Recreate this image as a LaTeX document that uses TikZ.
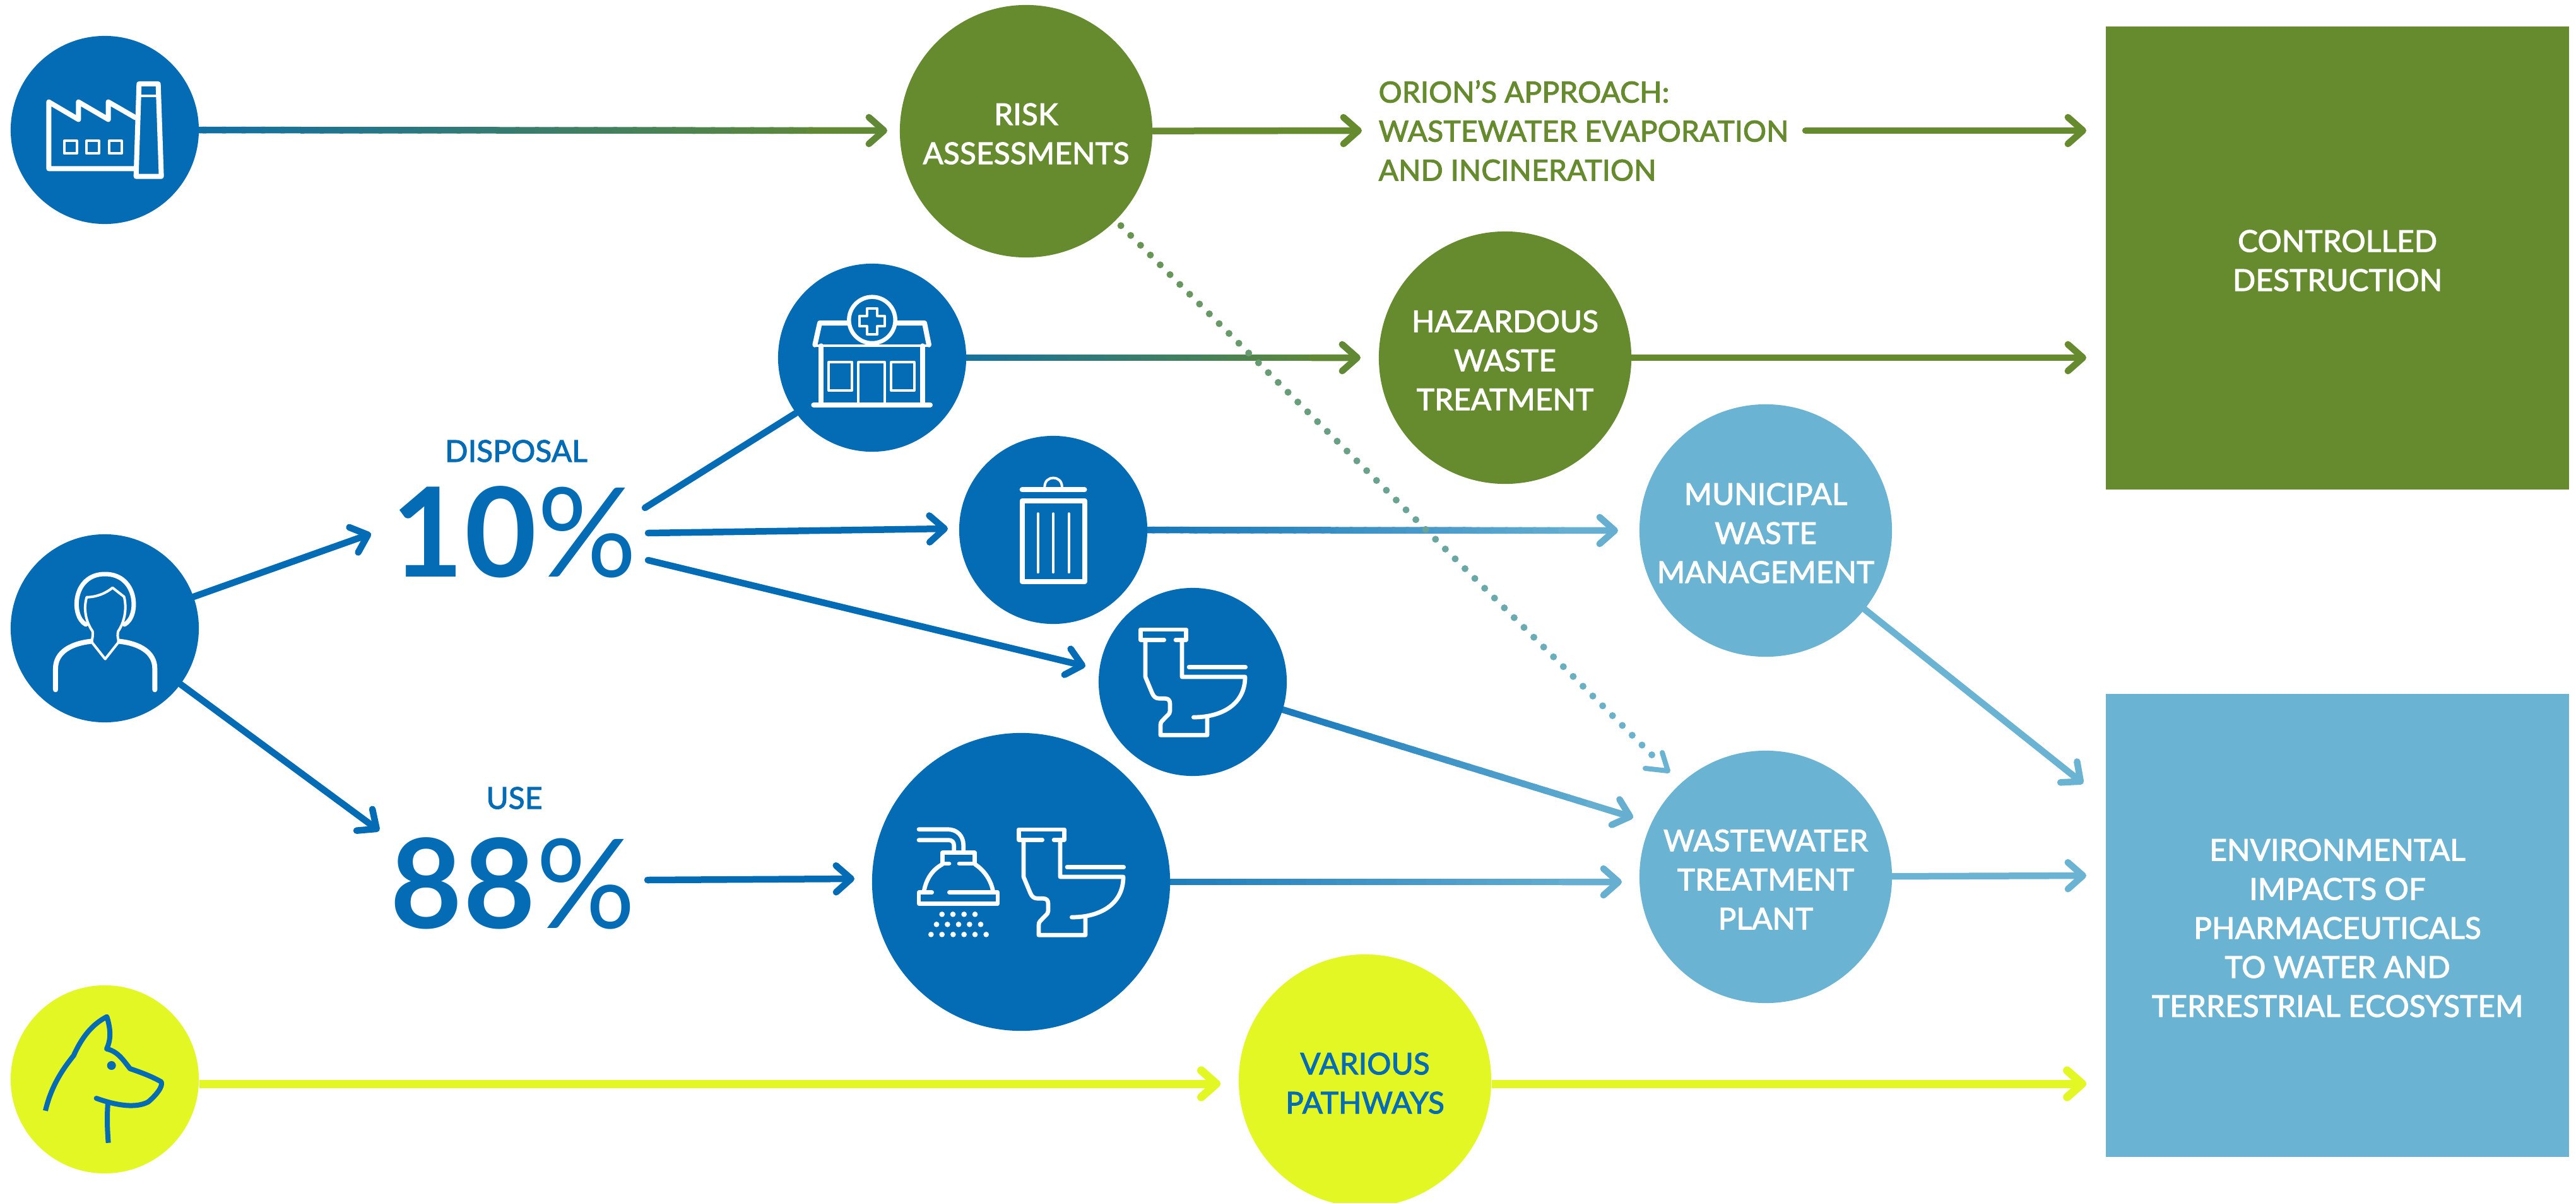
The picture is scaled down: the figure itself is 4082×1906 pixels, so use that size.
\documentclass[tikz,border=0pt]{standalone}
\usepackage{fontspec}
\setmainfont{Lato}
\newfontfamily\lab{Lato}[LetterSpace=0.6,FakeBold=2.4]
\newfontfamily\numb{Lato Bold}[LetterSpace=1]
\newfontfamily\numr{Lato}
\usetikzlibrary{calc,arrows.meta,backgrounds}
\definecolor{oblue}{HTML}{046BB5}
\definecolor{ogreen}{HTML}{668B2E}
\definecolor{olight}{HTML}{6BB3D3}
\definecolor{olime}{HTML}{E3F724}
\newlength{\px}\setlength{\px}{0.01cm}
\tikzset{
  bigc/.style={circle,fill=#1,draw=none,minimum size=4cm,inner sep=0pt,text=white,align=center,font=\labfont},
  iconc/.style={circle,fill=#1,draw=none,minimum size=2.98cm,inner sep=0pt},
  showerc/.style={circle,fill=oblue,draw=none,minimum size=4.72cm,inner sep=0pt},
  boxn/.style={rectangle,fill=#1,draw=none,minimum size=7.34cm,inner sep=0pt,text=white,align=center,font=\labfont},
  lbl/.style={text=#1,align=center,inner sep=0pt,font=\labfont},
  pct/.style={text=oblue,inner sep=0pt,font=\pctfont},
  conn/.style={line width=10.5\px,line cap=round,line join=round},
  limec/.style={line width=13\px,line cap=butt,olime},
  tipped/.style={-{Straight Barb[length=6.8pt,width=12pt,round]}},
  ic8/.style={white,line width=8\px,line cap=round,line join=round},
  ic6/.style={white,line width=6.7\px,line cap=round,line join=round},
  ic4/.style={white,line width=4\px,line cap=round,line join=round},
}
\newcommand\labfont{\lab\fontsize{13.5}{17.6}\selectfont}
\newcommand\orionfont{\lab\fontsize{13.1}{17.6}\selectfont}
\newcommand\lowertext{\rule{0pt}{12.1pt}}
\newcommand\pctfont{\numb\fontsize{56}{60}\selectfont}
\newcommand\pctsign{{\numr\%}}
% gradient connector: from, to, start colour, end colour
\newcommand\gradconn[4]{%
  \foreach \i in {0,...,35}{%
    \pgfmathsetmacro\pa{\i*0.025}%
    \pgfmathsetmacro\pb{(\i+1.2)*0.025}%
    \pgfmathsetmacro\pc{(\i+0.5)*2.5}%
    \draw[conn,line cap=butt,color=#4!\pc!#3] ($(#1)!\pa!(#2)$) -- ($(#1)!\pb!(#2)$);
  }%
  \draw[conn,tipped,color=#4!95!#3] ($(#1)!0.9!(#2)$) -- (#2);
}
\newcommand\toileticon{%
  \draw[ic6] (845,544) -- (733,544) -- (733,495) -- (950,495) -- (950,544) -- (900,544);
  \draw[ic6] (756,550) -- (756,720) -- (788,797) .. controls (796,815) and (805,823) .. (825,823) -- (850,823) .. controls (865,823) and (873,832) .. (873,847) -- (873,882) .. controls (873,892) and (868,896) .. (860,904) -- (835,930) .. controls (830,936) and (828,940) .. (828,948) -- (828,997) -- (1050,997) -- (1050,915);
  \draw[ic6] (930,550) -- (930,720) -- (1230,720) .. controls (1230,850) and (1120,912) .. (985,912);
  \draw[ic6] (963,674) -- (1232,674);
}
\begin{document}
\begin{tikzpicture}[x=0.01cm,y=-0.01cm]
\pgfdeclarelayer{lines}\pgfsetlayers{lines,main}
\useasboundingbox (0,0) rectangle (4082,1906);
% boxes
\node[boxn=ogreen] (ctrl) at (3704,409) {\lowertext CONTROLLED\\DESTRUCTION};
\node[boxn=olight] (env) at (3704,1467) {\lowertext ENVIRONMENTAL\\IMPACTS OF\\PHARMACEUTICALS\\TO WATER AND\\TERRESTRIAL ECOSYSTEM};
% big circles
\node[bigc=ogreen] (risk) at (1626,208) {\lowertext RISK\\ASSESSMENTS};
\node[bigc=ogreen] (haz) at (2385,567) {\lowertext HAZARDOUS\\WASTE\\TREATMENT};
\node[bigc=olight] (muni) at (2798,841) {\lowertext MUNICIPAL\\WASTE\\MANAGEMENT};
\node[bigc=olight] (wwtp) at (2798,1390) {\lowertext WASTEWATER\\TREATMENT\\PLANT};
\node[bigc=olime,text=oblue] (various) at (2163,1713) {\lowertext VARIOUS\\PATHWAYS};
% icon circles
\node[iconc=oblue] (factory) at (166,206) {};
\node[iconc=oblue] (person) at (166,996) {};
\node[iconc=olime] (dog) at (166,1711) {};
\node[iconc=oblue] (hospital) at (1382,567) {};
\node[iconc=oblue] (trash) at (1669,840) {};
\node[iconc=oblue] (toilet) at (1890,1081) {};
\node[showerc] (shower) at (1618,1398) {};
% labels
\node[lbl=ogreen,align=left,anchor=west,font=\orionfont] (orion) at (2184,207) {ORION’S APPROACH:\\WASTEWATER EVAPORATION\\AND INCINERATION};
\node[lbl=oblue] (disposal) at (818,715) {DISPOSAL};
\node[lbl=oblue] (use) at (815,1265) {USE};
\node[pct] (ten) at (815,843) {10\pctsign};
\node[pct] (eightyeight) at (813,1400) {88\pctsign};
% free ends
\coordinate (tipRisk) at (1406,207);
\coordinate (tipOrion) at (2158,207);
\coordinate (fromOrion) at (2861,207);
\coordinate (tipCtrlA) at (3306,207);
\coordinate (tipHaz) at (2156,567);
\coordinate (tipCtrlB) at (3306,567);
\coordinate (tipTen) at (588,846);
\coordinate (tipEight) at (601,1317);
\coordinate (fromTenA) at (1022,805);
\coordinate (fromTenB) at (1027,845);
\coordinate (fromTenC) at (1027,888);
\coordinate (tipTrash) at (1502,838);
\coordinate (tipToilet) at (1720,1056);
\coordinate (fromEight) at (1026,1395);
\coordinate (tipShower) at (1354,1393);
\coordinate (tipMuni) at (2564,841);
\coordinate (tipWwA) at (2588,1296);
\coordinate (tipWwB) at (2570,1398);
\coordinate (tipWwC) at (2643,1222);
\coordinate (tipEnvA) at (3301,1242);
\coordinate (tipEnvB) at (3306,1388);
\coordinate (tipVarious) at (1934,1718);
\coordinate (tipEnvC) at (3306,1718);
% connectors
\begin{pgfonlayer}{lines}
\gradconn{factory}{tipRisk}{oblue}{ogreen}
\gradconn{hospital}{tipHaz}{oblue}{ogreen}
\gradconn{trash}{tipMuni}{oblue}{olight}
\gradconn{toilet}{tipWwA}{oblue}{olight}
\gradconn{shower}{tipWwB}{oblue}{olight}
\draw[conn,tipped,ogreen] (risk) -- (tipOrion);
\draw[conn,tipped,ogreen] (fromOrion) -- (tipCtrlA);
\draw[conn,tipped,ogreen] (haz) -- (tipCtrlB);
\draw[conn,tipped,oblue] (person) -- (tipTen);
\draw[conn,tipped,oblue] (person) -- (tipEight);
\draw[conn,oblue] (fromTenA) -- (hospital.216);
\draw[conn,tipped,oblue] (fromTenB) -- (tipTrash);
\draw[conn,tipped,oblue] (fromTenC) -- (tipToilet);
\draw[conn,tipped,oblue] (fromEight) -- (tipShower);
\draw[conn,tipped,olight] (muni) -- (tipEnvA);
\draw[conn,tipped,olight] (wwtp) -- (tipEnvB);
\draw[limec,tipped] (dog.east |- tipVarious) -- (tipVarious);
\draw[limec,tipped] (various.east |- tipEnvC) -- (tipEnvC);
% dotted connector
\foreach \k in {0,...,54}{%
  \pgfmathsetmacro\t{(212+22*\k)/1436}%
  \pgfmathsetmacro\pc{\k*100/54}%
  \fill[color=olight!\pc!ogreen!80!olight] ($(risk)!\t!(tipWwC)$) circle (5.5);
}
\end{pgfonlayer}
\draw[conn,line width=8\px,color=olight] ($(tipWwC)+(-9,-29)$) -- (tipWwC) -- ($(tipWwC)+(-36,-4)$);
% factory icon
\begin{scope}[shift={(0,30)},scale=1/3]
\draw[ic8] (640,712) -- (232,712) -- (232,395) -- (373,478) -- (373,395) -- (515,478) -- (515,395) -- (645,470);
\draw[ic8] (661,309) -- (752,309) -- (767,749) -- (647,749) -- cycle;
\draw[ic4] (668,366) -- (745,366);
\draw[ic4] (305,580) rectangle (365,640);
\draw[ic4] (411,580) rectangle (471,640);
\draw[ic4] (518,580) rectangle (578,640);
\end{scope}
% hospital icon
\begin{scope}[shift={(1200,400)},scale=1/3]
\draw[ic8] (268,726) -- (822,726);
\draw[ic8] (304,445) -- (304,726);
\draw[ic8] (786,445) -- (786,726);
\draw[ic8] (430,336) -- (297,336) -- (274,440);
\draw[ic8] (662,336) -- (795,336) -- (816,440);
\draw[ic4] (274,443) -- (816,443);
\draw[white,line width=6.5\px] (546,322) circle (110);
\draw[ic4] (521,267) -- (571,267) -- (571,303) -- (606,303) -- (606,352) -- (571,352) -- (571,390) -- (521,390) -- (521,352) -- (485,352) -- (485,303) -- (521,303) -- cycle;
\draw[ic4] (340,522) rectangle (450,657);
\draw[ic4] (637,522) rectangle (746,657);
\draw[ic4] (481,720) -- (481,522) -- (606,522) -- (606,720);
\end{scope}
% trash icon
\begin{scope}[shift={(1500,680)},xscale=1/2.8,yscale=1/2.958]
\draw[ic8] (335,285) -- (612,285);
\draw[ic4] (435,272) .. controls (435,215) and (512,215) .. (512,272);
\draw[ic8] (335,336) rectangle (612,716);
\draw[ic4] (405,397) -- (405,672);
\draw[ic4] (473,397) -- (473,672);
\draw[ic4] (542,397) -- (542,672);
\end{scope}
% small toilet icon
\begin{scope}[shift={(1563,833)},scale=1/3]
\toileticon
\end{scope}
% shower and toilet icon
\begin{scope}[shift={(1370,1150)},scale=1/3]
\toileticon
\draw[ic6] (258,494) -- (395,494) .. controls (440,494) and (470,525) .. (470,570) -- (470,600);
\draw[ic6] (258,545) -- (400,545) .. controls (415,545) and (425,555) .. (425,570) -- (425,600);
\draw[ic6] (402,657) -- (370,657) -- (370,605) -- (523,605) -- (523,657) -- (450,657);
\draw[ic6] (283,785) .. controls (295,725) and (325,685) .. (370,660);
\draw[ic6] (525,660) .. controls (570,690) and (600,735) .. (610,785);
\draw[ic6] (320,794) -- (258,794) -- (258,847) -- (633,847) -- (633,794) -- (403,794);
\foreach \x in {368,420,473,525}{\fill[white] (\x,898) circle (13);}
\foreach \x in {342,394,447,499,552}{\fill[white] (\x,946) circle (13);}
\foreach \x in {316,368,421,473,525,578}{\fill[white] (\x,994) circle (13);}
\end{scope}
% person icon
\begin{scope}[shift={(0,830)},scale=1/3]
\draw[ic8] (264,790) -- (264,690) .. controls (264,610) and (340,570) .. (432,560);
\draw[ic8] (736,790) -- (736,690) .. controls (736,610) and (660,570) .. (568,560);
\draw[ic4] (435,562) -- (500,644) -- (565,562);
\draw[white,line width=7\px,line cap=round] (408,480) .. controls (335,440) and (345,240) .. (499,240) .. controls (655,240) and (665,440) .. (592,480);
\draw[ic4] (435,560) .. controls (442,540) and (442,525) .. (440,512) .. controls (410,470) and (395,410) .. (412,350) .. controls (460,350) and (505,330) .. (535,305) -- (590,348) .. controls (605,410) and (590,470) .. (562,512) .. controls (558,525) and (558,540) .. (565,560);
\end{scope}
% dog icon
\begin{scope}[shift={(0,1540)},scale=1/3]
\draw[oblue,line width=8\px,line join=round] (216,662) .. controls (240,560) and (285,480) .. (350,400) .. controls (390,310) and (440,250) .. (508,215) .. controls (525,270) and (530,320) .. (507,368) .. controls (560,380) and (585,420) .. (618,462) .. controls (670,480) and (720,498) .. (767,525) .. controls (775,550) and (740,590) .. (705,620) .. controls (650,650) and (560,640) .. (458,603);
\fill[oblue] (458,603) circle (12);
\draw[oblue,line width=8\px] (513,625) .. controls (508,690) and (510,750) .. (515,815);
\fill[oblue] (530,447) circle (21);
\end{scope}
\end{tikzpicture}
\end{document}
